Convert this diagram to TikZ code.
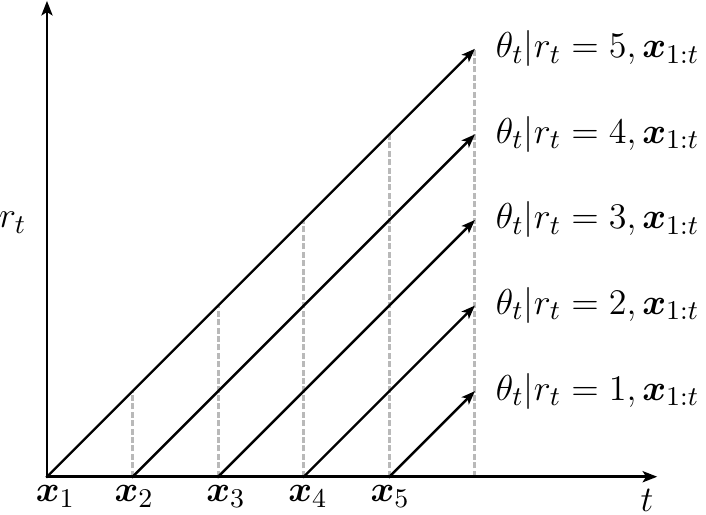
\documentclass[tikz,border=0pt]{standalone}
\usepackage{amsmath,bm}
\usetikzlibrary{arrows.meta}
\begin{document}
\begin{tikzpicture}[font=\fontsize{12.7}{15}\selectfont, line cap=rect,
    axis/.style={line width=0.9pt, -{Stealth[length=1.7mm, width=1.3mm, inset=0.4mm]}},
    run/.style={line width=0.8pt, -{Stealth[length=1.6mm, width=1.2mm, inset=0.4mm]}},
    gap/.style={gray!55, line width=1pt, line cap=butt, dash pattern=on 2pt off 0.8pt}]
        \useasboundingbox (-0.549, -0.444) rectangle (7.70, 5.57);
        % axes
        \coordinate (O) at (0, 0);
        \coordinate (ytop) at (0, 5.56);
        \coordinate (xend) at (7.13, 0);
        \node (rt) at (-0.40, 2.97) {$r_t$};
        \node (tt) at (7.01, -0.28) {$t$};

        % observations
        \node (x1) at (0.10, -0.23) {$\bm{x}_1$};
        \node (x2) at (1.02, -0.23) {$\bm{x}_2$};
        \node (x3) at (2.09, -0.23) {$\bm{x}_3$};
        \node (x4) at (3.05, -0.23) {$\bm{x}_4$};
        \node (x5) at (4.01, -0.23) {$\bm{x}_5$};

        % run starts and ends
        \coordinate (s1) at (0, 0);
        \coordinate (s2) at (1, 0);
        \coordinate (s3) at (2, 0);
        \coordinate (s4) at (3, 0);
        \coordinate (s5) at (4, 0);
        \coordinate (e5) at (5, 5);
        \coordinate (e4) at (5, 4);
        \coordinate (e3) at (5, 3);
        \coordinate (e2) at (5, 2);
        \coordinate (e1) at (5, 1);
        \coordinate (f0) at (5, 0);
        \coordinate (c2) at (1, 1);
        \coordinate (c3) at (2, 2);
        \coordinate (c4) at (3, 3);
        \coordinate (c5) at (4, 4);

        % dashed guides
        \draw[gap] (s2) -- (c2);
        \draw[gap] (s3) -- (c3);
        \draw[gap] (s4) -- (c4);
        \draw[gap] (s5) -- (c5);
        \draw[gap] (f0) -- (e5);

        % runs
        \draw[run] (s1) -- (e5);
        \draw[run] (s2) -- (e4);
        \draw[run] (s3) -- (e3);
        \draw[run] (s4) -- (e2);
        \draw[run] (s5) -- (e1);

        % labels
        \node[right, xshift=1.2mm] (l5) at (e5) {$\theta_t|r_t=5,\bm{x}_{1:t}$};
        \node[right, xshift=1.2mm] (l4) at (e4) {$\theta_t|r_t=4,\bm{x}_{1:t}$};
        \node[right, xshift=1.2mm] (l3) at (e3) {$\theta_t|r_t=3,\bm{x}_{1:t}$};
        \node[right, xshift=1.2mm] (l2) at (e2) {$\theta_t|r_t=2,\bm{x}_{1:t}$};
        \node[right, xshift=1.2mm] (l1) at (e1) {$\theta_t|r_t=1,\bm{x}_{1:t}$};

        % axes on top
        \draw[axis] (O) -- (ytop);
        \draw[axis] (O) -- (xend);
\end{tikzpicture}
\end{document}
